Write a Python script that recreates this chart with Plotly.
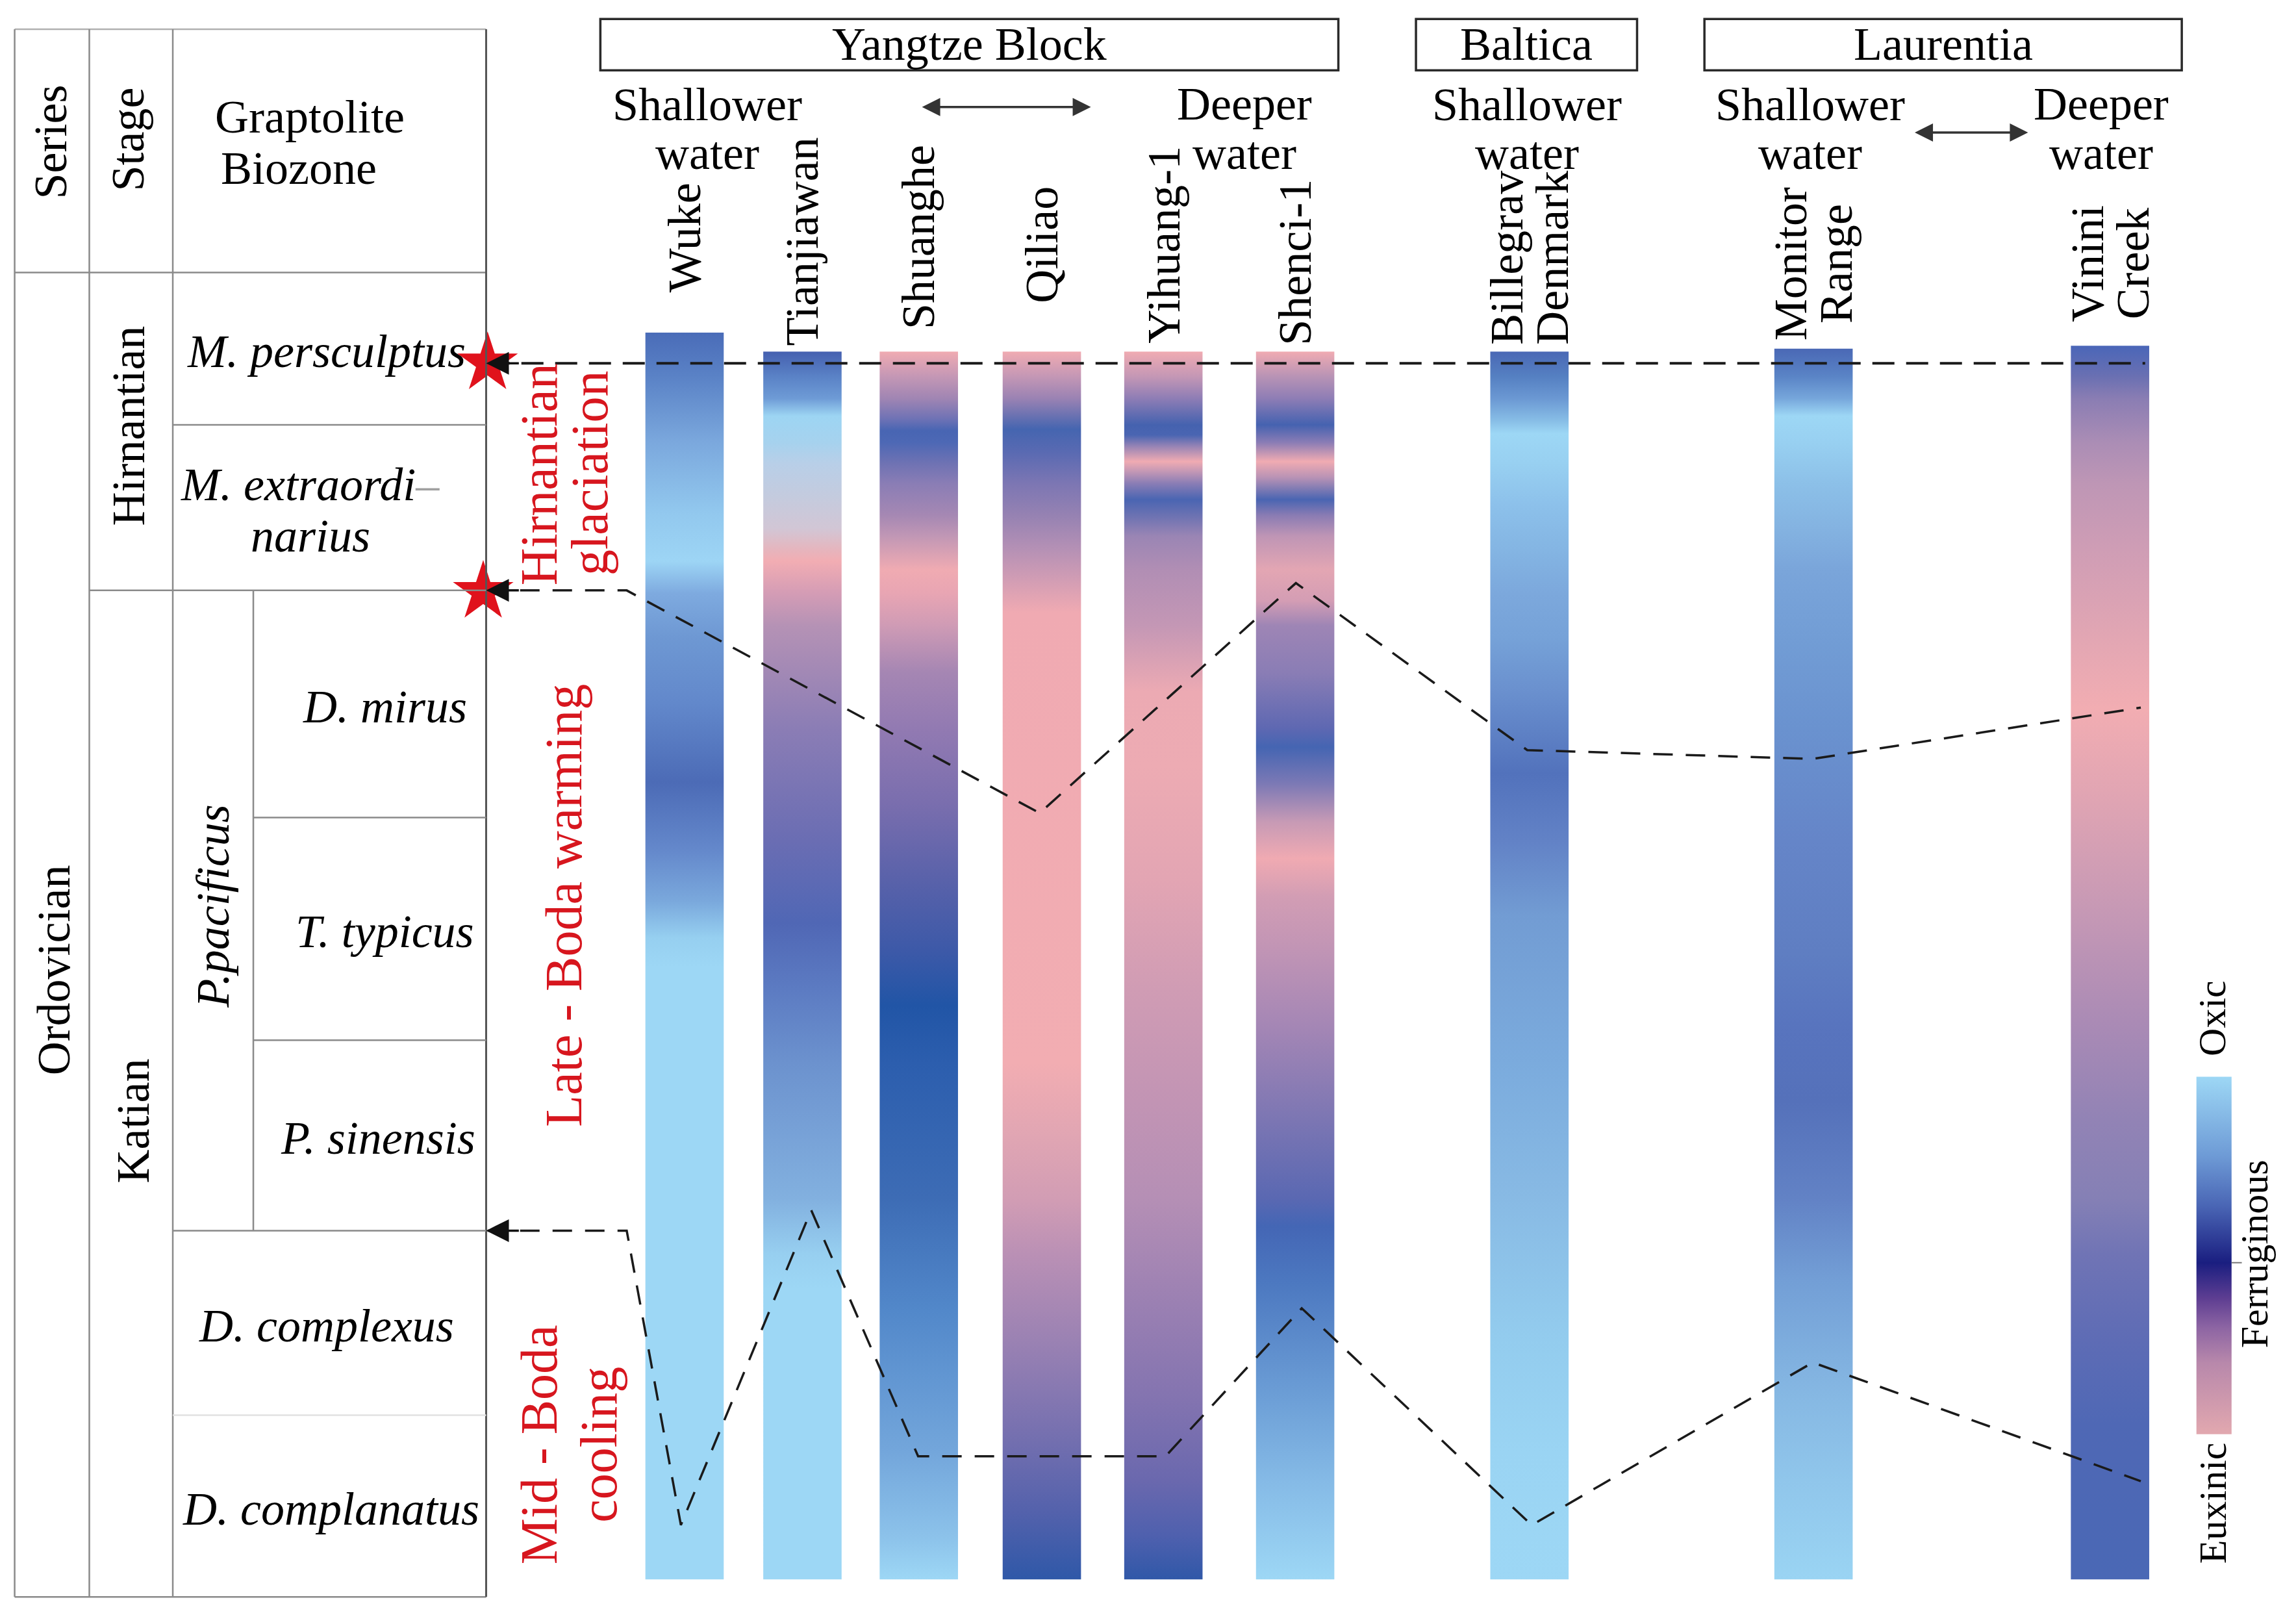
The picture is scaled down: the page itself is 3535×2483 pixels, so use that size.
import plotly.graph_objects as go

# ------------------------------------------------------------------ data
series_name = "Ordovician"
series_top, series_base = 186, 1090

stage_names = ["Hirnantian", "Katian"]
stage_top = [186, 403]
stage_base = [403, 1090]

subzone_name = "P.pacificus"
subzone_top, subzone_base = 403, 840

biozone_names = ["M. persculptus",
                 "M. extraordi<span style='color:#a0a0a0'>–</span><br>narius",
                 "D. mirus", "T. typicus", "P. sinensis",
                 "D. complexus", "D. complanatus"]
biozone_top = [186, 290, 403, 558, 710, 840, 966]
biozone_base = [290, 403, 558, 710, 840, 966, 1090]

sections = ["Wuke", "Tianjiawan", "Shuanghe", "Qiliao", "Yihuang-1", "Shenci-1",
            "Billegrav<br>Denmark", "Monitor<br>Range", "Vinini<br>Creek"]

# redox colour profiles read along each section (depth, tone)
wuke_depth = [227, 257, 302, 350, 383, 405, 435, 480, 534, 580, 615, 640, 660, 1078]
wuke_tone = ["#4A6CB8", "#5A82C6", "#7BA8DD", "#92C8EE", "#9DD5F5", "#7EAADF", "#6E98D3",
             "#6288CB", "#4C6BB6", "#6488CB", "#7AA8DC", "#96CFF0", "#9DD7F5", "#9DD7F5"]

tianjiawan_depth = [240, 257, 272, 284, 302, 316, 339, 361, 376, 383, 405, 427, 497, 574,
                    630, 675, 726, 818, 856, 880, 1078]
tianjiawan_tone = ["#4560B0", "#5A82C6", "#6E9BD6", "#9DD5F3", "#A6D2EE", "#B8CFE8", "#C4CBDE",
                   "#D2C6D5", "#E7B4BC", "#F2ADB3", "#D49CB5", "#B592B5", "#8B7DB5", "#6A6DB3",
                   "#5067B5", "#5C7BC2", "#6C92CE", "#82B0DF", "#97CFF0", "#9DD7F5", "#9DD7F5"]

shuanghe_depth = [240, 257, 272, 286, 294, 302, 316, 330, 352, 366, 389, 405, 427, 459, 497,
                  548, 599, 650, 686, 726, 818, 895, 991, 1049, 1078]
shuanghe_tone = ["#F0ABB2", "#C497B5", "#A085B3", "#6E72B5", "#4865B3", "#4D68B5", "#6E72B3",
                 "#8A7DB5", "#A688B3", "#C197B5", "#F0ABB2", "#E8A5B3", "#CF9BB5", "#A586B3",
                 "#927AB2", "#7A6EAE", "#5A62AA", "#3C59A8", "#2155A6", "#2C5EAE", "#3D6CB5",
                 "#5288CA", "#73A6DB", "#8CC2EA", "#9DD7F5"]

qiliao_depth = [240, 257, 272, 293, 309, 330, 352, 374, 396, 418, 726, 777, 818, 856, 914,
                972, 1030, 1078]
qiliao_tone = ["#F0ABB2", "#C497B5", "#9A82B3", "#4565B0", "#5A6AB2", "#7C76B3", "#9682B2",
               "#B490B5", "#D29DB4", "#F0AAB2", "#F2ADB2", "#E0A5B3", "#D29DB4", "#BA90B5",
               "#9B82B3", "#7A72B0", "#5562AC", "#2F58A8"]

yihuang_depth = [240, 257, 272, 290, 297, 305, 315, 322, 330, 341, 352, 366, 389, 427, 472,
                 523, 599, 675, 752, 818, 875, 953, 1011, 1049, 1078]
yihuang_tone = ["#F0ABB2", "#C497B5", "#8E7DB5", "#4562AF", "#4A65B2", "#9A85B5", "#F0ABB2",
                "#C297B5", "#8A7DB5", "#4A65B2", "#6C72B2", "#9A85B4", "#B18EB4", "#C497B5",
                "#ECAAB3", "#EDABB3", "#E3A5B3", "#D09CB4", "#C294B4", "#B58FB5", "#A083B3",
                "#8474B0", "#6A68AE", "#4E60AE", "#3058A8"]

shenci_depth = [240, 257, 272, 290, 302, 315, 326, 341, 352, 366, 389, 410, 427, 459, 497,
                510, 535, 561, 586, 612, 650, 701, 764, 818, 837, 875, 953, 1011, 1078]
shenci_tone = ["#F0ABB2", "#B893B5", "#8E7DB5", "#4562B0", "#8A7CB5", "#F0ABB2", "#B892B5",
               "#4A65B2", "#8B7CB3", "#BF95B5", "#E3A6B3", "#D49DB4", "#9E85B5", "#8A7DB5",
               "#5E68B2", "#4565B2", "#7C79B5", "#C79AB5", "#F0AAB2", "#D29DB4", "#C094B5",
               "#A486B5", "#7C76B3", "#5A68B2", "#4466B5", "#4C78C0", "#6C9ED6", "#85BAE6",
               "#9DD7F5"]

billegrav_depth = [240, 257, 272, 287, 296, 316, 346, 375, 405, 435, 472, 528, 574, 625, 726,
                   818, 914, 991, 1078]
billegrav_tone = ["#4A68B5", "#5580C2", "#6B98D3", "#87BDE6", "#9DD7F5", "#98D0F1", "#8CC0EA",
                  "#84B5E3", "#7CA8DC", "#76A2D8", "#6A90CE", "#5272BC", "#6282C6", "#729CD3",
                  "#7BABDD", "#88BAE4", "#93CCEE", "#9AD4F3", "#9DD7F5"]

monitor_depth = [238, 257, 272, 284, 302, 330, 360, 389, 435, 497, 574, 650, 701, 752, 818,
                 875, 953, 1011, 1078]
monitor_tone = ["#4A68B5", "#5A84C6", "#76A6DB", "#9DD7F5", "#98D0F1", "#8CC0E8", "#84B3E1",
                "#7AA5DA", "#729DD5", "#6A92CF", "#6585C8", "#5F7EC2", "#5874BE", "#5571BA",
                "#6282C5", "#739FD6", "#86B8E3", "#90C6EB", "#9AD4F3"]

vinini_depth = [236, 257, 272, 302, 330, 375, 435, 484, 548, 625, 701, 764, 818, 856, 914,
                972, 1078]
vinini_tone = ["#4A66B8", "#6A70B2", "#8A7DB3", "#AB8DB5", "#BE96B5", "#CF9DB5", "#E2A6B3",
               "#F2ADB2", "#DFA4B3", "#C598B5", "#A98AB5", "#9283B5", "#8580B5", "#7074B5",
               "#5E6CB5", "#4F68B5", "#4A68B5"]

profiles = [(wuke_depth, wuke_tone), (tianjiawan_depth, tianjiawan_tone),
            (shuanghe_depth, shuanghe_tone), (qiliao_depth, qiliao_tone),
            (yihuang_depth, yihuang_tone), (shenci_depth, shenci_tone),
            (billegrav_depth, billegrav_tone), (monitor_depth, monitor_tone),
            (vinini_depth, vinini_tone)]

# correlation (dashed) lines
glaciation_top_x = [333, 1465]
glaciation_top_y = [248, 248]
katian_top_x = [333, 428, 710, 885, 1043, 1238, 1462]
katian_top_y = [403, 403, 555, 398, 512, 518, 483]
midboda_x = [333, 428, 465, 554, 627, 796, 889, 1046, 1238, 1462]
midboda_y = [840, 840, 1041, 826, 994, 994, 893, 1041, 930, 1011]
star_y = [248, 404]

blocks = ["Yangtze Block", "Baltica", "Laurentia"]

legend_labels = ["Oxic", "Ferruginous", "Euxinic"]
legend_pos = [0.0, 0.52, 1.0]
legend_tone = ["#9DD7F5", "#6E9BD6", "#4A66B5", "#1A1E80", "#5E3E92", "#8C64A3", "#B888AB", "#E2A8AF"]
legend_stop = [0.0, 0.22, 0.36, 0.52, 0.62, 0.70, 0.80, 1.0]

# ------------------------------------------------------------------ layout constants
W, H = 3535, 2483
XR, YR = 1568, 1101
OFF = 8 * XR / W          # compensates the page's 8px body margin
FONT = "Liberation Serif, Times New Roman, serif"
RED = "#D7161E"
FS = 72
GRID = "#8a8a8a"

TX = [10, 61, 118, 173, 332]       # table column edges
TABLE_TOP = 20
HEADER_BASE = 186
COL_CENTER = [467.5, 548, 627.5, 711.5, 794.5, 884.5, 1044.5, 1238.5, 1441]
COL_W = 53.5
LABEL_Y = [162, 165, 162, 167, 167, 179, 176, 180, 180]
BIOZONE_LABEL_X = [223, 212, 263, 263, 258, 223, 226]
BLOCK_BOX = [(410, 914), (967, 1118), (1164, 1490)]
BOX_Y = (13, 48)

fig = go.Figure()
shapes = []
ann = []


def line(x0, y0, x1, y1, color=GRID, width=2.5):
    shapes.append(dict(type="line", xref="x", yref="y", x0=x0, y0=y0, x1=x1, y1=y1,
                       line=dict(color=color, width=width)))


def text(t, x, y, size=FS, color="black", angle=0, xanchor="center", yanchor="middle"):
    ann.append(dict(text=t, x=x, y=y, xref="x", yref="y", showarrow=False, textangle=angle,
                    xanchor=xanchor, yanchor=yanchor,
                    font=dict(family=FONT, size=size, color=color)))


# ------------------------------------------------------------------ stratigraphic table
line(TX[0], TABLE_TOP, TX[4], TABLE_TOP, "#b0b0b0")
line(TX[0], HEADER_BASE, TX[4], HEADER_BASE)
line(TX[0], series_base, TX[4], series_base)
for xe in TX[:3]:
    line(xe, TABLE_TOP, xe, series_base)
line(TX[4], TABLE_TOP, TX[4], series_base, "#555555", 3)
line(TX[3], subzone_top, TX[3], subzone_base)
line(TX[1], stage_top[1], TX[4], stage_top[1])
for i in range(1, len(biozone_top)):
    yb = biozone_top[i]
    if yb == stage_top[1]:
        continue
    inside_sub = subzone_top < yb < subzone_base
    x_start = TX[3] if inside_sub else TX[2]
    col = "#e2e2e2" if yb == 966 else GRID
    line(x_start, yb, TX[4], yb, col)

text("Series", (TX[0] + TX[1]) / 2 - 1, 97, angle=-90)
text("Stage", (TX[1] + TX[2]) / 2 - 2, 95, angle=-90)
text("Graptolite", 146, 80, xanchor="left")
text("Biozone", 150, 115, xanchor="left")
text(series_name, 37, (series_top + series_base) / 2 + 24, angle=-90)
text(stage_names[0], 88, (stage_top[0] + stage_base[0]) / 2 - 4, angle=-90)
text(stage_names[1], 91, 765, angle=-90)
text("<i>" + subzone_name + "</i>", (TX[2] + TX[3]) / 2, (subzone_top + subzone_base) / 2 - 3, angle=-90)
for name, t0, b0, xl in zip(biozone_names, biozone_top, biozone_base, BIOZONE_LABEL_X):
    parts = name.split("<br>")
    mid = (t0 + b0) / 2 + 2
    for k, p in enumerate(parts):
        yy = mid + (k - (len(parts) - 1) / 2) * 35
        text("<i>" + p + "</i>", xl, yy)

# ------------------------------------------------------------------ climate annotations
text("Hirnantian", 368, 324, size=80, color=RED, angle=-90)
text("glaciation", 403, 323, size=80, color=RED, angle=-90)
text("Late - Boda warming", 385, 618, size=80, color=RED, angle=-90)
text("Mid - Boda", 368, 986, size=80, color=RED, angle=-90)
text("cooling", 409, 986, size=80, color=RED, angle=-90)

# ------------------------------------------------------------------ header boxes
for name, (x0, x1) in zip(blocks, BLOCK_BOX):
    shapes.append(dict(type="rect", xref="x", yref="y", x0=x0, x1=x1, y0=BOX_Y[0], y1=BOX_Y[1],
                       line=dict(color="#2a2a2a", width=3.5)))
    text(name, (x0 + x1) / 2, 30)

water_labels = [("Shallower", 483, 71.5), ("water", 483, 104.5), ("Deeper", 850, 71),
                ("water", 850, 104.5), ("Shallower", 1043, 71.5), ("water", 1043, 104.5),
                ("Shallower", 1236, 71.5), ("water", 1236, 104.5), ("Deeper", 1435, 71),
                ("water", 1435, 104.5)]
for t, x, y in water_labels:
    text(t, x, y)

for (xa, xb, yy) in [(629, 745, 73), (1307, 1385, 90.5)]:
    ann.append(dict(x=xb, y=yy, ax=xa, ay=yy, xref="x", yref="y", axref="x", ayref="y",
                    text="", showarrow=True, arrowhead=2, arrowside="end+start", arrowsize=1.6,
                    arrowwidth=3.5, arrowcolor="#333333", standoff=0, startstandoff=0))

# ------------------------------------------------------------------ section columns
for (depth, tone), xc in zip(profiles, COL_CENTER):
    top, bot = depth[0], depth[-1]
    cs = [[(d - top) / (bot - top), c] for d, c in zip(depth, tone)]
    x0, x1 = xc - COL_W / 2, xc + COL_W / 2
    fig.add_trace(go.Scatter(x=[x0, x1, x1, x0, x0], y=[top, top, bot, bot, top],
                             mode="lines", line=dict(width=0), fill="toself",
                             fillgradient=dict(type="vertical", colorscale=cs, start=top, stop=bot),
                             hoverinfo="skip", showlegend=False))

for name, xc, yc in zip(sections, COL_CENTER, LABEL_Y):
    parts = name.split("<br>")
    for k, p in enumerate(parts):
        xx = xc + (k - (len(parts) - 1) / 2) * 31
        text(p, xx, yc, angle=-90)

# ------------------------------------------------------------------ correlation lines
for xs, ys, w, d in [(glaciation_top_x, glaciation_top_y, 4, "34px,18px"),
                     (katian_top_x, katian_top_y, 3.5, "30px,20px"),
                     (midboda_x, midboda_y, 3.5, "30px,20px")]:
    fig.add_trace(go.Scatter(x=xs, y=ys, mode="lines", hoverinfo="skip", showlegend=False,
                             line=dict(color="#1a1a1a", width=w, dash=d)))

fig.add_trace(go.Scatter(x=[glaciation_top_x[0], katian_top_x[0] - 3], y=star_y, mode="markers",
                         marker=dict(symbol="star", size=70, color="#E0121C", line=dict(width=0)),
                         hoverinfo="skip", showlegend=False))

for xs, ys in [(glaciation_top_x, glaciation_top_y), (katian_top_x, katian_top_y),
               (midboda_x, midboda_y)]:
    ann.append(dict(x=xs[0] - 1, y=ys[0], ax=xs[0] + 22, ay=ys[0], xref="x", yref="y",
                    axref="x", ayref="y", text="", showarrow=True, arrowhead=2, arrowsize=2.0,
                    arrowwidth=3.5, arrowcolor="#111111", standoff=0))

# ------------------------------------------------------------------ legend bar
LX0, LX1, LY0, LY1 = 1500, 1524, 735, 979
fig.add_trace(go.Scatter(x=[LX0, LX1, LX1, LX0, LX0], y=[LY0, LY0, LY1, LY1, LY0],
                         mode="lines", line=dict(width=0), fill="toself",
                         fillgradient=dict(type="vertical",
                                           colorscale=[[s, c] for s, c in zip(legend_stop, legend_tone)],
                                           start=LY0, stop=LY1),
                         hoverinfo="skip", showlegend=False))
ferr_y = LY0 + legend_pos[1] * (LY1 - LY0)
line(LX1, ferr_y, LX1 + 7, ferr_y, "#777777", 2)
text(legend_labels[0], 1511, 695, size=60, angle=-90)
text(legend_labels[1], 1540, 856, size=60, angle=-90)
text(legend_labels[2], 1511, 1026, size=60, angle=-90)

fig.update_layout(width=W, height=H, margin=dict(l=0, r=0, t=0, b=0),
                  paper_bgcolor="white", plot_bgcolor="white",
                  xaxis=dict(range=[OFF, XR + OFF], visible=False, fixedrange=True),
                  yaxis=dict(range=[YR + OFF, OFF], visible=False, fixedrange=True),
                  shapes=shapes, annotations=ann, showlegend=False)

fig.write_html("out.html")
